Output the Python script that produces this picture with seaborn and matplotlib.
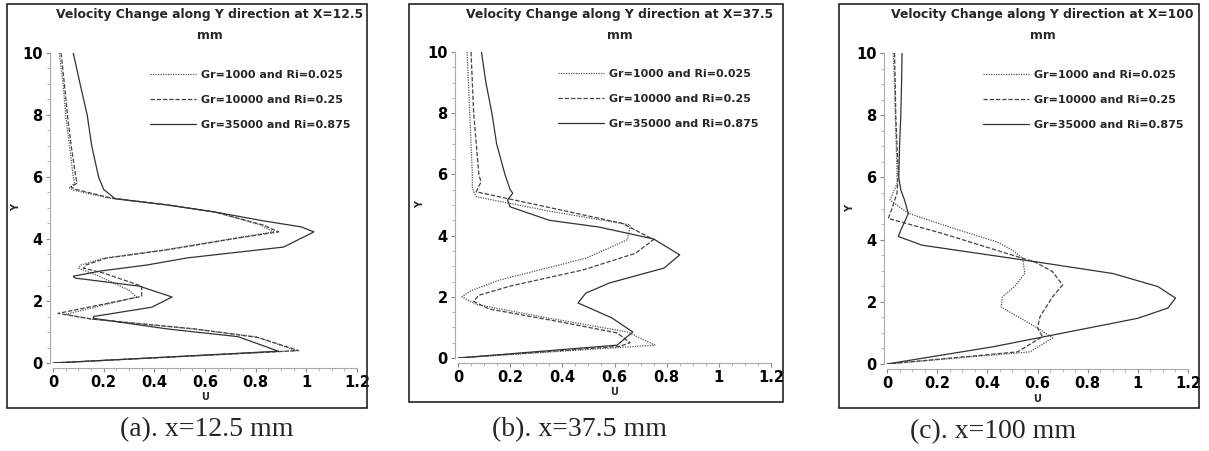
import matplotlib
matplotlib.use("Agg")
import matplotlib.pyplot as plt
from matplotlib.patches import Rectangle
from matplotlib.ticker import MultipleLocator
import seaborn as sns
import pandas as pd

sns.set_style("ticks")
plt.rcParams["font.family"] = ["DejaVu Sans"]
plt.rcParams["font.weight"] = "bold"

labels = ["Gr=1000 and Ri=0.025", "Gr=10000 and Ri=0.25", "Gr=35000 and Ri=0.875"]
titles = ["Velocity Change along Y direction at X=12.5\nmm",
          "Velocity Change along Y direction at X=37.5\nmm",
          "Velocity Change along Y direction at X=100\nmm"]
captions = ["(a). x=12.5 mm", "(b). x=37.5 mm", "(c). x=100 mm"]
xtick_vals = [0, 0.2, 0.4, 0.6, 0.8, 1.0, 1.2]
xtick_labels = ["0", "0.2", "0.4", "0.6", "0.8", "1", "1.2"]
ytick_vals = [0, 2, 4, 6, 8, 10]

# (a) x = 12.5 mm
a_dot_y = [10, 9, 8, 7, 6.0, 5.8, 5.64, 5.58, 5.32, 5.1, 4.87, 4.45, 4.23, 4.03, 3.65, 3.38, 3.16, 3.06, 2.84, 2.35, 2.13, 1.57, 1.42, 1.1, 0.85, 0.4, 0]
a_dot_u = [0.025, 0.04, 0.05, 0.065, 0.08, 0.085, 0.065, 0.08, 0.22, 0.45, 0.64, 0.82, 0.87, 0.72, 0.44, 0.20, 0.11, 0.10, 0.17, 0.30, 0.33, 0.05, 0.15, 0.55, 0.80, 0.96, 0]
a_dash_y = [10, 9, 8, 7, 6.0, 5.8, 5.68, 5.6, 5.32, 5.1, 4.87, 4.45, 4.23, 4.03, 3.65, 3.38, 3.16, 3.06, 2.9, 2.48, 2.15, 1.6, 1.42, 1.1, 0.82, 0.4, 0]
a_dash_u = [0.032, 0.045, 0.057, 0.072, 0.09, 0.095, 0.07, 0.09, 0.23, 0.45, 0.64, 0.83, 0.89, 0.73, 0.45, 0.21, 0.13, 0.12, 0.20, 0.35, 0.35, 0.02, 0.15, 0.56, 0.81, 0.97, 0]
a_sol_y = [10, 9, 8, 7, 6, 5.6, 5.3, 5.1, 4.87, 4.6, 4.39, 4.23, 3.74, 3.39, 3.16, 2.97, 2.8, 2.74, 2.48, 2.13, 1.8, 1.5, 1.44, 1.1, 0.85, 0.38, 0]
a_sol_u = [0.08, 0.107, 0.135, 0.153, 0.18, 0.20, 0.245, 0.45, 0.64, 0.82, 0.98, 1.03, 0.91, 0.53, 0.37, 0.19, 0.08, 0.087, 0.34, 0.47, 0.39, 0.16, 0.16, 0.45, 0.73, 0.89, 0]

# (b) x = 37.5 mm
b_dot_y = [10, 9, 8, 7, 6, 5.55, 5.27, 4.8, 4.35, 3.87, 3.26, 2.55, 2.2, 2.0, 1.75, 1.3, 0.85, 0.42, 0]
b_dot_u = [0.035, 0.04, 0.045, 0.05, 0.055, 0.055, 0.07, 0.35, 0.66, 0.65, 0.49, 0.16, 0.05, 0.015, 0.07, 0.35, 0.65, 0.755, 0]
b_dash_y = [10, 9, 8, 7, 6, 5.75, 5.43, 4.9, 4.4, 3.87, 3.42, 2.88, 2.35, 2.05, 1.85, 1.6, 1.2, 0.82, 0.5, 0.38, 0]
b_dash_u = [0.05, 0.055, 0.06, 0.07, 0.08, 0.088, 0.07, 0.36, 0.63, 0.75, 0.68, 0.48, 0.2, 0.08, 0.06, 0.12, 0.38, 0.61, 0.66, 0.62, 0]
b_sol_y = [10, 9, 8, 7, 6, 5.5, 5.39, 5.16, 4.94, 4.5, 4.28, 3.89, 3.37, 2.94, 2.45, 2.12, 1.8, 1.31, 0.85, 0.42, 0]
b_sol_u = [0.09, 0.107, 0.13, 0.148, 0.18, 0.20, 0.21, 0.19, 0.20, 0.35, 0.54, 0.75, 0.85, 0.79, 0.58, 0.49, 0.46, 0.59, 0.67, 0.61, 0]

# (c) x = 100 mm
c_dot_y = [10, 9, 8, 7, 6.2, 5.8, 5.27, 4.85, 4.4, 3.92, 3.66, 3.4, 2.92, 2.5, 2.16, 1.83, 1.16, 0.84, 0.39, 0]
c_dot_u = [0.025, 0.03, 0.033, 0.037, 0.04, 0.04, 0.012, 0.084, 0.25, 0.44, 0.50, 0.54, 0.55, 0.51, 0.46, 0.455, 0.60, 0.66, 0.57, 0]
c_dash_y = [10, 9, 8, 7, 6.2, 5.5, 5.0, 4.68, 4.2, 3.5, 3.28, 2.97, 2.54, 2.16, 1.52, 1.16, 0.88, 0.39, 0]
c_dash_u = [0.03, 0.033, 0.035, 0.04, 0.045, 0.04, 0.02, 0.005, 0.22, 0.50, 0.59, 0.66, 0.70, 0.66, 0.61, 0.60, 0.62, 0.52, 0]
c_sol_y = [10, 9, 8, 7, 6, 5.6, 5.27, 4.84, 4.3, 4.1, 3.82, 3.29, 2.91, 2.49, 2.12, 1.8, 1.47, 0.93, 0.55, 0]
c_sol_u = [0.06, 0.058, 0.055, 0.05, 0.047, 0.055, 0.07, 0.085, 0.055, 0.045, 0.14, 0.59, 0.90, 1.08, 1.15, 1.12, 1.0, 0.66, 0.42, 0]

panels = [
    [(a_dot_u, a_dot_y), (a_dash_u, a_dash_y), (a_sol_u, a_sol_y)],
    [(b_dot_u, b_dot_y), (b_dash_u, b_dash_y), (b_sol_u, b_sol_y)],
    [(c_dot_u, c_dot_y), (c_dash_u, c_dash_y), (c_sol_u, c_sol_y)],
]

# line looks: dotted, dashed, solid
styles = [(0, (1, 1)), (0, (3.5, 1.5)), "-"]
colors = ["#555555", "#444444", "#333333"]

# pixel layout of the reference (1209 x 451)
W, H = 1209, 451
axes_px = [(53, 363, 304, 310), (458, 358, 313, 306), (887, 364, 301, 311)]
frames_px = [(7, 4, 360, 404), (409, 4, 374, 398), (839, 4, 360, 404)]
caption_px = [(207, 430), (579, 430), (993, 432)]

fig = plt.figure(figsize=(W / 100, H / 100), dpi=100)

for i, series in enumerate(panels):
    x0, y0, w, h = axes_px[i]
    ax = fig.add_axes([x0 / W, (H - y0) / H, w / W, h / H])

    for (u, y), ls, c, lab in zip(series, styles, colors, labels):
        df = pd.DataFrame({"U": u, "Y": y})
        sns.lineplot(data=df, x="U", y="Y", sort=False, estimator=None,
                     color=c, linestyle=ls, linewidth=0.9, label=lab, ax=ax)

    ax.set_xlim(0, 1.2)
    ax.set_ylim(0, 10)
    ax.set_xticks(xtick_vals)
    ax.set_xticklabels(xtick_labels)
    ax.set_yticks(ytick_vals)
    ax.xaxis.set_minor_locator(MultipleLocator(0.05))
    ax.yaxis.set_minor_locator(MultipleLocator(0.5))
    ax.tick_params(which="major", length=3, width=0.8, color="#888888", pad=2,
                   labelsize=10.5, labelcolor="black")
    ax.tick_params(which="minor", length=2, width=0.6, color="#aaaaaa")

    sns.despine(ax=ax, offset={"left": 2.5, "bottom": 3.5}, trim=True)
    ax.spines["left"].set_color("#aaaaaa")
    ax.spines["bottom"].set_color("#aaaaaa")

    ax.set_xlabel("U", fontsize=7, fontweight="bold")
    ax.set_ylabel("Y", fontsize=7, fontweight="bold")
    ax.xaxis.set_label_coords(0.5, -0.095)
    ax.yaxis.set_label_coords(-0.105, 0.5)

    ax.legend(loc="upper left", bbox_to_anchor=(0.32, 0.945), frameon=False,
              prop={"weight": "bold", "size": 8}, handlelength=4.1,
              handletextpad=0.45, labelspacing=1.35, borderpad=0, borderaxespad=0)

    # title over the panel, a touch right of the axes centre
    fig.text((x0 + w / 2 + 5) / W, 1 - 25 / H, titles[i], ha="center", va="center",
             fontsize=8.9, fontweight="bold", linespacing=1.85)

    fx, fy, fw, fh = frames_px[i]
    fig.add_artist(Rectangle((fx / W, 1 - (fy + fh) / H), fw / W, fh / H,
                             transform=fig.transFigure, fill=False,
                             edgecolor="#222222", linewidth=1.2))

    cx, cy = caption_px[i]
    fig.text(cx / W, 1 - cy / H, captions[i], ha="center", va="center",
             family="Liberation Serif", fontweight="normal", fontsize=20)

fig.savefig("out.png", dpi=100, facecolor="white")
plt.close(fig)
